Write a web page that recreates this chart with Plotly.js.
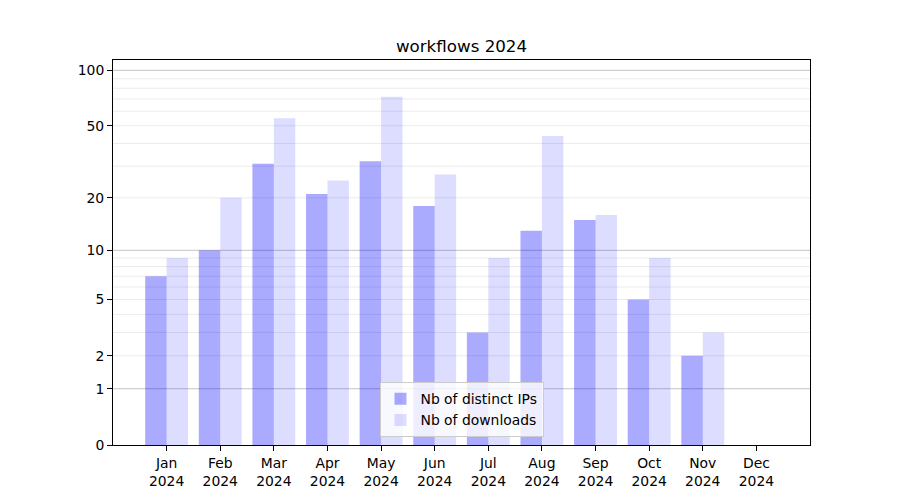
<!DOCTYPE html>
<html>
<head>
<meta charset="utf-8">
<script src="https://cdn.plot.ly/plotly-3.0.1.min.js"></script>
<style>html,body{margin:0;padding:0;background:#fff;}#chart{width:900px;height:500px;}</style>
</head>
<body>
<div id="chart"></div>
<script>
const months = ["Jan","Feb","Mar","Apr","May","Jun","Jul","Aug","Sep","Oct","Nov","Dec"];
const year = "2024";
const distinctIPs = [7, 10, 31, 21, 32, 18, 3, 13, 15, 5, 2, 0];
const downloads = [9, 20, 55, 25, 72, 27, 9, 44, 16, 9, 3, 0];
const yTickValues = [0, 1, 2, 5, 10, 20, 50, 100];
const lightGridValues = [2,3,4,5,6,7,8,9,20,30,40,50,60,70,80,90];
const darkGridValues = [1, 10, 100];

// y axis uses a log10(1 + v) scale
const f = v => Math.log10(1 + v);
const idx = months.map((_, i) => i);

const font = {family: "DejaVu Sans, sans-serif", size: 13.9, color: "#000"};

const traces = [
  {type: "bar", name: "Nb of distinct IPs", x: idx, y: distinctIPs.map(f),
   marker: {color: "rgba(0,0,255,0.333)", line: {width: 0}}, hoverinfo: "skip"},
  {type: "bar", name: "Nb of downloads", x: idx, y: downloads.map(f),
   marker: {color: "rgba(0,0,255,0.135)", line: {width: 0}}, hoverinfo: "skip"}
];

const shapes = [];
lightGridValues.forEach(v => shapes.push({type: "line", xref: "paper", yref: "y", x0: 0, x1: 1, y0: f(v), y1: f(v), layer: "below", line: {color: "#ebebeb", width: 1}}));
darkGridValues.forEach(v => shapes.push({type: "line", xref: "paper", yref: "y", x0: 0, x1: 1, y0: f(v), y1: f(v), layer: "below", line: {color: "#c4c4c4", width: 1}}));

const layout = {
  width: 900, height: 500,
  margin: {l: 113, r: 90, t: 60, b: 55},
  paper_bgcolor: "#fff", plot_bgcolor: "#fff",
  font: font,
  title: {text: "workflows 2024", font: {family: "DejaVu Sans, sans-serif", size: 16.7, color: "#000"},
          x: 0.5, xref: "paper", y: 1 - 46/500, yref: "container", yanchor: "middle"},
  barmode: "group", bargap: 0.2, bargroupgap: 0,
  showlegend: true,
  legend: {x: 0.5, xanchor: "center", y: 0.02, yanchor: "bottom",
           bgcolor: "rgba(255,255,255,0.8)", bordercolor: "#cccccc", borderwidth: 1,
           font: font, tracegroupgap: 0},
  xaxis: {range: [-1, 12], tickmode: "array", tickvals: idx, ticktext: months.map(m => m + "<br>" + year),
          showgrid: false, zeroline: false, showline: true, mirror: true, linecolor: "#000", linewidth: 1,
          ticks: "outside", ticklen: 5, tickcolor: "#000", tickfont: font},
  yaxis: {range: [0, 2.0595], tickmode: "array", tickvals: yTickValues.map(f), ticktext: yTickValues.map(String),
          showgrid: false, zeroline: false, showline: true, mirror: true, linecolor: "#000", linewidth: 1,
          ticks: "outside", ticklen: 5, tickcolor: "#000", tickfont: font},
  shapes: shapes
};

Plotly.newPlot("chart", traces, layout, {staticPlot: true, displayModeBar: false});
</script>
</body>
</html>
